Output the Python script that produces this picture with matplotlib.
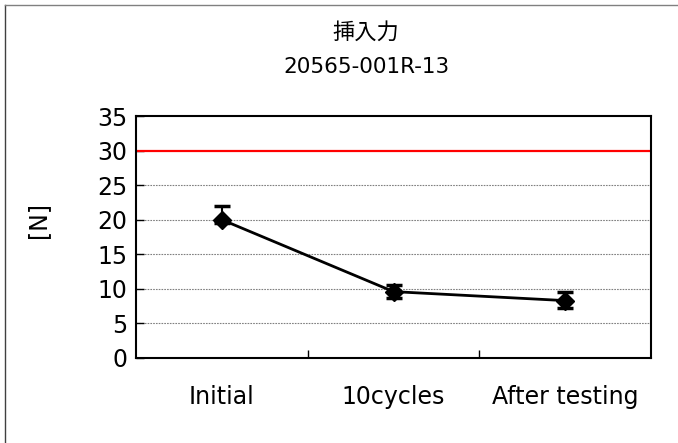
import matplotlib
matplotlib.use("Agg")
import matplotlib.pyplot as plt
from matplotlib.lines import Line2D

plt.rcParams['font.family'] = ['DejaVu Sans', 'Noto Sans CJK JP']

# data
categories = ['Initial', '10cycles', 'After testing']
force_mean = [20.0, 9.6, 8.3]
err_low = [0.5, 0.9, 1.1]
err_high = [2.0, 0.9, 1.3]
limit = 30
yticks = [0, 5, 10, 15, 20, 25, 30, 35]

fig = plt.figure(figsize=(6.78, 4.43), dpi=100)
ax = fig.add_axes([0.2006, 0.1919, 0.7596, 0.5462])

x = list(range(len(categories)))
ax.set_xlim(-0.5, len(categories) - 0.5)
ax.set_ylim(0, 35)

# gridlines
for v in yticks[1:-1]:
    if v != limit:
        ax.axhline(v, color='#808080', lw=0.8, ls=(0, (1.5, 1)), zorder=1)
ax.axhline(limit, color='#ff0000', lw=1.6, zorder=2)

ax.errorbar(x, force_mean, yerr=[err_low, err_high], color='black', lw=2,
            marker='D', markersize=9.5, elinewidth=1.5, capsize=6,
            capthick=2.5, zorder=3)

ax.set_yticks(yticks)
ax.set_xticks([0.5, 1.5])
ax.set_xticklabels([])
ax.tick_params(axis='y', direction='in', length=6, width=1, labelsize=17, pad=6)
ax.tick_params(axis='x', direction='in', length=6, width=1)
for s in ax.spines.values():
    s.set_linewidth(1.5)

for i, c in enumerate(categories):
    ax.text(i, -0.163, c, transform=ax.get_xaxis_transform(),
            ha='center', va='center', fontsize=17)

ax.set_ylabel('[N]', fontsize=17)
ax.yaxis.set_label_coords((50 - 136) / 515, 0.57)

fig.text(0.54, 1 - 32 / 443, '挿入力', ha='center', va='center', fontsize=16)
fig.text(0.54, 1 - 67 / 443, '20565-001R-13', ha='center', va='center', fontsize=15.5)

# outer chart border (left and top edges)
fig.add_artist(Line2D([5 / 678, 5 / 678], [0, 1 - 5 / 443], transform=fig.transFigure,
                      color='#404040', lw=1))
fig.add_artist(Line2D([5 / 678, 1], [1 - 5 / 443, 1 - 5 / 443], transform=fig.transFigure,
                      color='#808080', lw=1))

fig.savefig('out.png', dpi=100)
